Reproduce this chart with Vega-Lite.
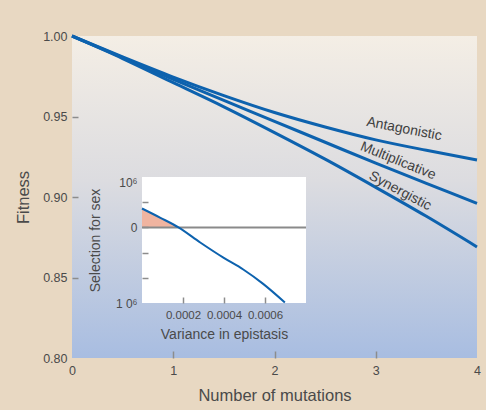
{
  "$schema": "https://vega.github.io/schema/vega-lite/v6.json",
  "width": 405,
  "height": 322,
  "autosize": {"type": "none"},
  "padding": {"left": 72, "top": 36, "right": 9, "bottom": 52},
  "background": "#e8d8c2",
  "config": {
    "view": {"stroke": null},
    "font": "Liberation Sans",
    "axis": {
      "domain": false,
      "grid": false,
      "labelColor": "#4a4a4a",
      "titleColor": "#4a4a4a",
      "titleFontWeight": "normal",
      "tickColor": "#8c8c8c",
      "tickWidth": 1.5
    }
  },
  "datasets": {
    "fitness": [
      {"model": "Antagonistic", "mutations": 0, "fitness": 1.0},
      {"model": "Antagonistic", "mutations": 0.5, "fitness": 0.987},
      {"model": "Antagonistic", "mutations": 1, "fitness": 0.9745},
      {"model": "Antagonistic", "mutations": 1.5, "fitness": 0.963},
      {"model": "Antagonistic", "mutations": 2, "fitness": 0.9525},
      {"model": "Antagonistic", "mutations": 2.5, "fitness": 0.9435},
      {"model": "Antagonistic", "mutations": 3, "fitness": 0.9355},
      {"model": "Antagonistic", "mutations": 3.5, "fitness": 0.929},
      {"model": "Antagonistic", "mutations": 4, "fitness": 0.923},
      {"model": "Multiplicative", "mutations": 0, "fitness": 1.0},
      {"model": "Multiplicative", "mutations": 0.5, "fitness": 0.9865},
      {"model": "Multiplicative", "mutations": 1, "fitness": 0.973},
      {"model": "Multiplicative", "mutations": 1.5, "fitness": 0.96},
      {"model": "Multiplicative", "mutations": 2, "fitness": 0.947},
      {"model": "Multiplicative", "mutations": 2.5, "fitness": 0.934},
      {"model": "Multiplicative", "mutations": 3, "fitness": 0.921},
      {"model": "Multiplicative", "mutations": 3.5, "fitness": 0.9085},
      {"model": "Multiplicative", "mutations": 4, "fitness": 0.896},
      {"model": "Synergistic", "mutations": 0, "fitness": 1.0},
      {"model": "Synergistic", "mutations": 0.5, "fitness": 0.986},
      {"model": "Synergistic", "mutations": 1, "fitness": 0.971},
      {"model": "Synergistic", "mutations": 1.5, "fitness": 0.956},
      {"model": "Synergistic", "mutations": 2, "fitness": 0.94},
      {"model": "Synergistic", "mutations": 2.5, "fitness": 0.9235},
      {"model": "Synergistic", "mutations": 3, "fitness": 0.906},
      {"model": "Synergistic", "mutations": 3.5, "fitness": 0.888},
      {"model": "Synergistic", "mutations": 4, "fitness": 0.869}
    ],
    "inset": [
      {"variance": 0, "selection": 0.75},
      {"variance": 0.00009, "selection": 0.38},
      {"variance": 0.000178, "selection": 0},
      {"variance": 0.000284, "selection": -0.6},
      {"variance": 0.000397, "selection": -1.2},
      {"variance": 0.000494, "selection": -1.67},
      {"variance": 0.000591, "selection": -2.24},
      {"variance": 0.000697, "selection": -2.98}
    ]
  },
  "layer": [
    {
      "layer": [
        {
          "data": {"values": [{}]},
          "mark": {
            "type": "rect",
            "color": {
              "gradient": "linear",
              "x1": 0, "y1": 0, "x2": 0, "y2": 1,
              "stops": [
                {"offset": 0, "color": "#f4eee5"},
                {"offset": 0.45, "color": "#dcdce0"},
                {"offset": 1, "color": "#a8bde1"}
              ]
            }
          },
          "encoding": {
            "x": {"datum": 0, "type": "quantitative"},
            "x2": {"datum": 4},
            "y": {"datum": 0.8, "type": "quantitative"},
            "y2": {"datum": 1.0}
          }
        },
        {
          "data": {"name": "fitness"},
          "mark": {"type": "line", "interpolate": "monotone", "color": "#0d62ae", "strokeWidth": 3},
          "encoding": {
            "x": {
              "field": "mutations",
              "type": "quantitative",
              "scale": {"domain": [0, 4], "nice": false, "zero": false},
              "axis": {
                "zindex": 1,
                "values": [0, 1, 2, 3, 4],
                "format": "d",
                "tickSize": -7,
                "tickOpacity": {"condition": {"test": "datum.value == 0 || datum.value == 4", "value": 0}, "value": 1},
                "labelFontSize": 12.5,
                "labelPadding": 13,
                "labelFlush": false,
                "title": "Number of mutations",
                "titleFontSize": 16.5,
                "titlePadding": 11
              }
            },
            "y": {
              "field": "fitness",
              "type": "quantitative",
              "scale": {"domain": [0.8, 1.0], "nice": false, "zero": false},
              "axis": {
                "zindex": 1,
                "values": [0.8, 0.85, 0.9, 0.95, 1.0],
                "format": ".2f",
                "tickSize": -6,
                "tickOpacity": {"condition": {"test": "datum.value < 0.81 || datum.value > 0.99", "value": 0}, "value": 1},
                "labelFontSize": 12.5,
                "labelPadding": 11,
                "labelFlush": false,
                "title": "Fitness",
                "titleFontSize": 16.5,
                "titlePadding": 11
              }
            },
            "detail": {"field": "model"}
          }
        },
        {
          "data": {"values": [{"label": "Antagonistic", "mutations": 3.28, "fitness": 0.9422}]},
          "mark": {"type": "text", "angle": 11, "fontSize": 14, "color": "#3f3f3f", "align": "center", "baseline": "middle"},
          "encoding": {
            "x": {"field": "mutations", "type": "quantitative"},
            "y": {"field": "fitness", "type": "quantitative"},
            "text": {"field": "label"}
          }
        },
        {
          "data": {"values": [{"label": "Multiplicative", "mutations": 3.22, "fitness": 0.9224}]},
          "mark": {"type": "text", "angle": 22, "fontSize": 14, "color": "#3f3f3f", "align": "center", "baseline": "middle"},
          "encoding": {
            "x": {"field": "mutations", "type": "quantitative"},
            "y": {"field": "fitness", "type": "quantitative"},
            "text": {"field": "label"}
          }
        },
        {
          "data": {"values": [{"label": "Synergistic", "mutations": 3.24, "fitness": 0.9037}]},
          "mark": {"type": "text", "angle": 28, "fontSize": 14, "color": "#3f3f3f", "align": "center", "baseline": "middle"},
          "encoding": {
            "x": {"field": "mutations", "type": "quantitative"},
            "y": {"field": "fitness", "type": "quantitative"},
            "text": {"field": "label"}
          }
        }
      ]
    },
    {
      "layer": [
        {
          "data": {"values": [{}]},
          "mark": {"type": "rect", "color": "#ffffff"},
          "encoding": {
            "x": {"datum": 0, "type": "quantitative"},
            "x2": {"datum": 0.0008},
            "y": {"datum": -3, "type": "quantitative"},
            "y2": {"datum": 2}
          }
        },
        {
          "data": {"name": "inset"},
          "transform": [{"filter": "datum.variance <= 0.000178"}],
          "mark": {"type": "area", "color": "#f0b4a0", "opacity": 1, "interpolate": "monotone"},
          "encoding": {
            "x": {"field": "variance", "type": "quantitative"},
            "y": {"field": "selection", "type": "quantitative"},
            "y2": {"datum": 0}
          }
        },
        {
          "data": {"values": [{}]},
          "mark": {"type": "rule", "color": "#8a8a8a", "strokeWidth": 2},
          "encoding": {
            "x": {"datum": 0, "type": "quantitative"},
            "x2": {"datum": 0.0008},
            "y": {"datum": 0, "type": "quantitative"}
          }
        },
        {
          "data": {"name": "inset"},
          "mark": {"type": "line", "interpolate": "monotone", "color": "#0d62ae", "strokeWidth": 2},
          "encoding": {
            "x": {
              "field": "variance",
              "type": "quantitative",
              "scale": {"domain": [0, 0.0008], "range": [70, 234], "nice": false, "zero": false},
              "axis": {
                "zindex": 1,
                "orient": "bottom",
                "offset": -55,
                "values": [0.0002, 0.0004, 0.0006],
                "format": ".4f",
                "tickSize": -6,
                "labelFontSize": 11.5,
                "labelPadding": 12,
                "labelFlush": false,
                "title": "Variance in epistasis",
                "titleFontSize": 14,
                "titlePadding": 7
              }
            },
            "y": {
              "field": "selection",
              "type": "quantitative",
              "scale": {"domain": [-3, 2], "range": [267, 141], "nice": false, "zero": false},
              "axis": {
                "zindex": 1,
                "orient": "left",
                "offset": -70,
                "values": [-3, -2, -1, 0, 1, 2],
                "labelExpr": "datum.value == 2 ? '10⁶' : datum.value == 0 ? '0' : datum.value == -3 ? '1 0⁶' : ''",
                "tickSize": -6,
                "tickOpacity": {"condition": {"test": "datum.value == 2 || datum.value == -3", "value": 0}, "value": 1},
                "labelFontSize": 12,
                "labelPadding": 11,
                "labelBaseline": {"condition": {"test": "datum.value == 2", "value": "top"}, "value": "middle"},
                "labelFlush": false,
                "title": "Selection for sex",
                "titleFontSize": 14,
                "titlePadding": 13
              }
            }
          }
        }
      ]
    }
  ],
  "resolve": {
    "scale": {"x": "independent", "y": "independent"},
    "axis": {"x": "independent", "y": "independent"}
  }
}
